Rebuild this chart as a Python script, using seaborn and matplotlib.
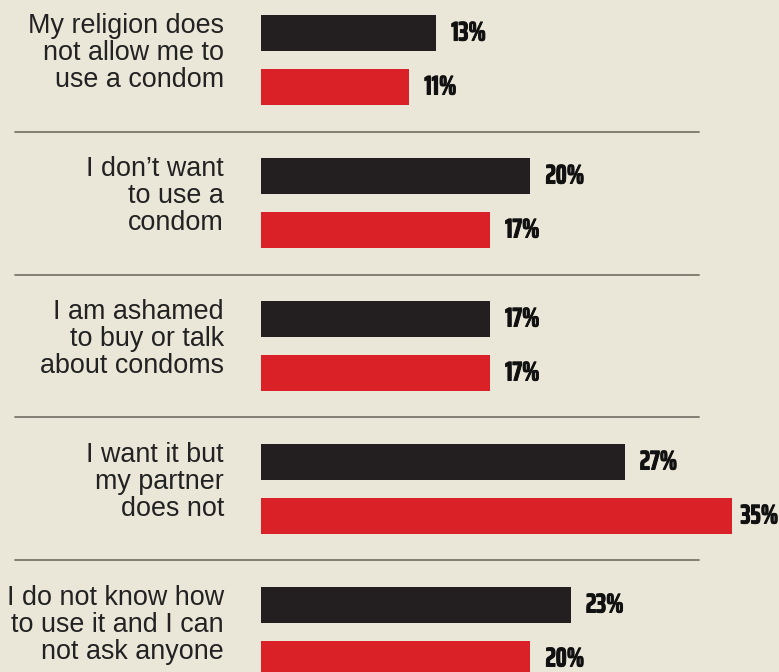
import matplotlib
matplotlib.use("Agg")
import matplotlib.pyplot as plt
import matplotlib.transforms as mtransforms
import matplotlib.patheffects as pe
from matplotlib import font_manager
import seaborn as sns
import pandas as pd

categories = [
    "My religion does\nnot allow me to\nuse a condom",
    "I don\u2019t want\nto use a\ncondom",
    "I am ashamed\nto buy or talk\nabout condoms",
    "I want it but\nmy partner\ndoes not",
    "I do not know how\nto use it and I can\nnot ask anyone",
]
series_names = ["Series 1", "Series 2"]
series1 = [13, 20, 17, 27, 23]
series2 = [11, 17, 17, 35, 20]
colors = ["#231F20", "#DA2128"]
bg = "#EAE6D8"

rows = []
for c, a, b in zip(categories, series1, series2):
    rows.append({"cat": c, "series": series_names[0], "value": a})
    rows.append({"cat": c, "series": series_names[1], "value": b})
df = pd.DataFrame(rows)

# pick a heavy condensed font for the value labels if one is installed
ttf = font_manager.fontManager.ttflist
names = sorted({f.name for f in ttf})
num_font = None
for key in ["ExtraCondensed", "Condensed", "Narrow"]:
    hits = [n for n in names if key in n and "Mono" not in n]
    if not hits:
        continue
    for w in ["ExtraBold", "Black", "Bold"]:
        wh = [n for n in hits if n.endswith(w) and "Semi" not in n]
        if wh:
            num_font = sorted(wh, key=len)[0]
            break
    if num_font is None:
        num_font = sorted(hits, key=len)[0]
    break
if num_font is None:
    num_font = "DejaVu Sans"

sns.set_theme(style="white")
W, H = 779, 672
fig = plt.figure(figsize=(W / 100, H / 100), dpi=100, facecolor=bg)
ax = fig.add_axes([261 / W, 0, 509 / W, 1])
ax.set_facecolor(bg)

sns.barplot(data=df, y="cat", x="value", hue="series", order=categories,
            hue_order=series_names, palette=colors, orient="h",
            width=0.755, gap=0.333, dodge=True, legend=False, ax=ax,
            saturation=1, linewidth=0)

ax.set_xlim(0, 37.8)
ax.set_ylim(4.28, -0.42)
ax.set_xlabel("")
ax.set_ylabel("")
ax.set_xticks([])
ax.set_yticks([])
for s in ax.spines.values():
    s.set_visible(False)

vmax = max(series1 + series2)
for cont, vals in zip(ax.containers, [series1, series2]):
    labels = ax.bar_label(cont, fmt="%d%%", padding=11, fontsize=19.5,
                          fontweight="bold", color="#111111",
                          family=[num_font, "DejaVu Sans"])
    for t, v in zip(labels, vals):
        t.set_path_effects([pe.withStroke(linewidth=0.7, foreground="#111111")])
        if v == vmax:
            t.xyann = (6, 0)

trans = mtransforms.blended_transform_factory(fig.transFigure, ax.transData)
for i in range(len(categories) - 1):
    ax.plot([15 / W, 699 / W], [i + 0.5, i + 0.5], transform=trans,
            color="#7A786C", lw=1.3, clip_on=False)

for i, c in enumerate(categories):
    ax.text(224 / W, i - 0.05, c, transform=trans, ha="right", va="center",
            multialignment="right", fontsize=19.4, color="#222222",
            family=["Liberation Sans", "DejaVu Sans"], linespacing=1.05)

fig.savefig("out.png", dpi=100, facecolor=bg)
